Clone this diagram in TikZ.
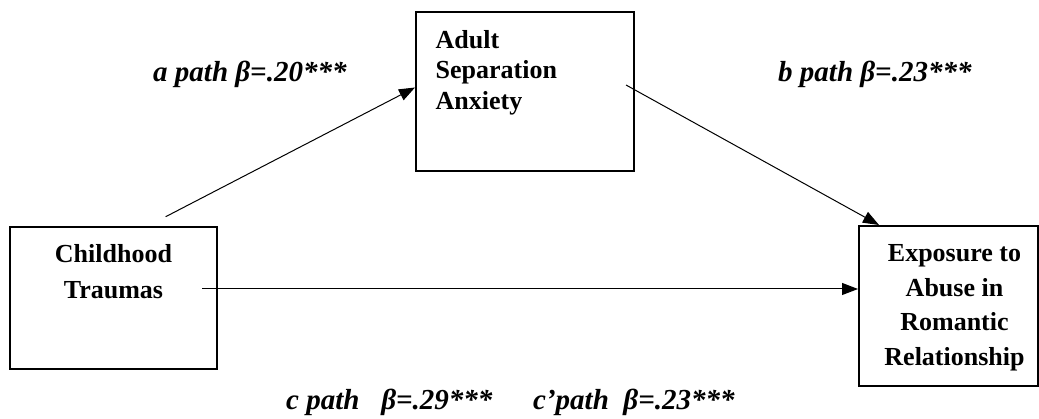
\documentclass[tikz,border=0pt]{standalone}
\usepackage{fontspec}
\setmainfont{Liberation Serif}
\usetikzlibrary{positioning,arrows.meta}

\begin{document}
\begin{tikzpicture}[x=1pt, y=1pt,
		varbox/.style={draw, rectangle, line width=2pt, inner sep=0pt},
		vartext/.style={inner sep=0pt, font=\bfseries\fontsize{26}{35.5}\selectfont},
		pathlabel/.style={inner sep=0pt, anchor=base west, font=\bfseries\itshape\fontsize{29}{34}\selectfont},
		patharrow/.style={-{Triangle[length=16pt, width=12pt]}, line width=1pt}]
		
		% Frame
		\useasboundingbox (0,0) rectangle (1039,419);
		
		% Variables
		\node (child) [varbox, minimum width=207pt, minimum height=142pt] at (113.5,121) {};
		\node (adult) [varbox, minimum width=218pt, minimum height=159pt] at (525,327.5) {};
		\node (expo) [varbox, minimum width=179pt, minimum height=160pt] at (948.5,113) {};
		
		% Variable names
		\node (childtext) [vartext, align=center, below=18.5pt of child.north] {Childhood\\Traumas};
		\node (adulttext) [vartext, align=left, font=\bfseries\fontsize{26}{30.5}\selectfont, below right=19pt and 20.5pt of adult.north west] {Adult\\Separation\\Anxiety};
		\node (expotext) [vartext, align=center, font=\bfseries\fontsize{26}{34.5}\selectfont, below=19.5pt of expo.north, xshift=6pt] {Exposure to\\Abuse in\\Romantic\\Relationship};
		
		% Paths
		\coordinate (astart) at (165.7,202.3);
		\coordinate (bstart) at (626,334);
		\coordinate (cstart) at (202,130);
		\draw[patharrow] (astart) -- ([yshift=4pt]adult.west);
		\draw[patharrow] (bstart) -- ([xshift=21pt]expo.north west);
		\draw[patharrow] (cstart) -- (cstart -| expo.west);
		
		% Labels
		\node (alabel) [pathlabel] at (153,337.3) {a path β=.20***};
		\node (blabel) [pathlabel] at (778,337.3) {b path β=.23***};
		\node (clabel) [pathlabel] at (286,9) {c path\ \ \ β=.29***};
		\node (cplabel) [pathlabel] at (533,9) {c’path\ \ β=.23***};
		
	\end{tikzpicture}
\end{document}
